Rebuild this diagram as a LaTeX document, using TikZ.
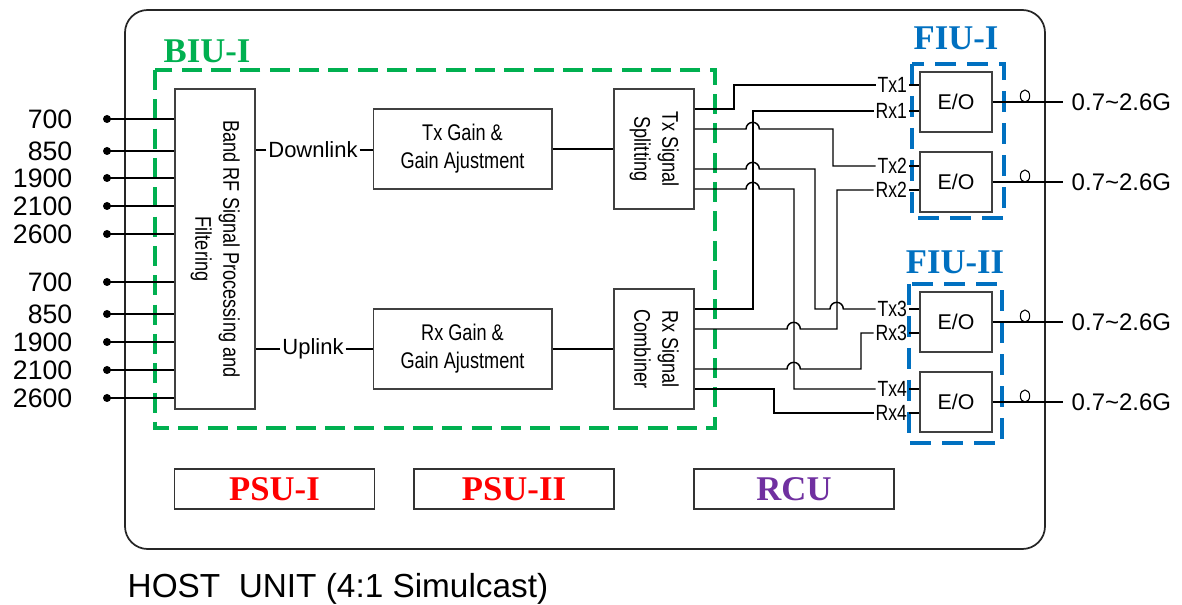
\documentclass[tikz,border=0pt]{standalone}
\usepackage{fontspec}
\setmainfont{Liberation Sans}
\newfontfamily\narrowfont[FakeStretch=0.8]{Liberation Sans}
\newfontfamily\titlefont{Liberation Serif}
\usepackage{graphicx}
\usepackage{tikz}
\usetikzlibrary{shapes.geometric,calc}
\definecolor{biugreen}{HTML}{00B050}
\definecolor{fiublue}{HTML}{0070C0}
\definecolor{rcupurple}{HTML}{7030A0}
\definecolor{psured}{HTML}{FF0000}
\tikzset{
  box/.style={draw=black!75,line width=1pt,fill=white,inner sep=0pt,align=center,font=\narrowfont\fontsize{17}{21}\selectfont},
  eobox/.style={draw=black!75,line width=1pt,fill=white,minimum width=54pt,minimum height=45pt,font=\fontsize{16}{19}\selectfont},
  unitbox/.style={draw=black!80,line width=0.9pt,minimum width=150pt,minimum height=30pt,font=\titlefont\bfseries\fontsize{26}{30}\selectfont},
  grouptitle/.style={font=\titlefont\bfseries\fontsize{26}{30}\selectfont,inner sep=0pt},
  groupframe/.style={line width=2.6pt,dash pattern=on 15pt off 7pt},
  band/.style={font=\fontsize{20}{24}\selectfont,inner sep=0pt},
  sig/.style={font=\narrowfont\fontsize{16.5}{19}\selectfont,inner sep=1pt},
  link/.style={font=\fontsize{16.5}{19}\selectfont,inner sep=1pt},
  dot/.style={circle,fill,inner sep=0pt,minimum size=6pt},
  ring/.style={ellipse,draw,line width=0.8pt,inner sep=0pt,minimum width=7pt,minimum height=9pt},
}

\begin{document}
\begin{tikzpicture}[x=0.75pt,y=-0.75pt,line width=1.1pt]
\useasboundingbox (0,0) rectangle (1182,605);
\draw[rounded corners=17pt,line width=1.3pt,black!85] (125,10) rectangle (1045,549);
\draw[groupframe,biugreen] (155,70) rectangle (715,428);
\draw[groupframe,fiublue,dash pattern=on 16pt off 8pt] (912,64) rectangle (1004,218);
\draw[groupframe,fiublue,dash pattern=on 16pt off 8pt] (909,284) rectangle (1002,443);
\node[grouptitle,text=biugreen,anchor=base west] at (163,63) (biu) {BIU-I};
\node[grouptitle,text=fiublue,anchor=base] at (956,50) (fiu1) {FIU-I};
\node[grouptitle,text=fiublue,anchor=base] at (955,274) (fiu2) {FIU-II};

\node[box,minimum width=60pt,minimum height=240pt] at (215,249) (band)
  {\rotatebox{-90}{\begin{tabular}{@{}c@{}}Band RF Signal Processing and\\Filtering\end{tabular}}};
\node[box,minimum width=134pt,minimum height=60pt] at (462.5,149) (txgain) {Tx Gain \&\\Gain Ajustment};
\node[box,minimum width=134pt,minimum height=60pt] at (462.5,349) (rxgain) {Rx Gain \&\\Gain Ajustment};
\node[box,minimum width=60pt,minimum height=90pt] at (654,149) (split)
  {\rotatebox{-90}{\begin{tabular}{@{}c@{}}Tx Signal\\Splitting\end{tabular}}};
\node[box,minimum width=60pt,minimum height=90pt] at (654,349) (comb)
  {\rotatebox{-90}{\begin{tabular}{@{}c@{}}Rx Signal\\Combiner\end{tabular}}};

\foreach \f/\y [count=\i] in {700/119,850/151,1900/178,2100/206,2600/234,700/282,850/314,1900/342,2100/370,2600/398}{
  \node[dot] at (107,\y) (in\i) {};
  \node[band,anchor=east] at (73,\y) (f\i) {\f};
  \draw (in\i.center) -- (in\i -| band.west);
}

\node[link] at (313,150) (dl) {Downlink};
\node[link] at (313,349) (ul) {Uplink};
\draw (dl) -- (dl -| band.east);
\draw (dl) -- (dl -| txgain.west);
\draw (ul) -- (ul -| band.east);
\draw (ul) -- (ul -| rxgain.west);
\draw (txgain) -- (split);
\draw (rxgain) -- (comb);

\foreach \d [count=\i] in {-40,-20,20,40}{
  \coordinate (so\i) at ($(split.east)+(0,\d)$);
  \coordinate (co\i) at ($(comb.east)+(0,\d)$);
}

\foreach \y [count=\i] in {102,182,322,402}{
  \node[eobox] at (956,\y) (eo\i) {E/O};
  \node[ring] at (1025,\y-6) (ring\i) {};
  \node[band,anchor=west,inner xsep=6pt,font=\fontsize{18}{21}\selectfont] at (1063,\y) (out\i) {0.7\textasciitilde2.6G};
  \draw (eo\i) -- (out\i);
}

\foreach \s/\y/\k in {Tx1/85/1,Rx1/111/1,Tx2/166/2,Rx2/190/2,Tx3/309/3,Rx3/333/3,Tx4/389/4,Rx4/413/4}{
  \node[sig,anchor=east] at (909,\y) (\s) {\s};
  \draw (\s) -- (\s -| eo\k.west);
}

\draw (so1) -| (734,85) -- (Tx1);
\draw (co1) -| (753,111) -- (Rx1);
\draw (so2) -- (746,129) arc[start angle=180,end angle=0,radius=5pt] -- (833,129) |- (Tx2);
\draw (so3) -- (746,169) arc[start angle=180,end angle=0,radius=5pt] -- (815,169) -- (815,309)
  -- (830,309) arc[start angle=180,end angle=0,radius=5pt] -- (Tx3);
\draw (so4) -- (746,189) arc[start angle=180,end angle=0,radius=5pt] -- (794,189) |- (Tx4);
\draw (co2) -- (787,329) arc[start angle=180,end angle=0,radius=5pt] -- (837,329) |- (Rx2);
\draw (co3) -- (787,369) arc[start angle=180,end angle=0,radius=5pt] -- (861,369) |- (Rx3);
\draw (co4) -| (774,413) -- (Rx4);

\node[unitbox,text=psured] at (274.5,489) (psu1) {PSU-I};
\node[unitbox,text=psured] at (514,489) (psu2) {PSU-II};
\node[unitbox,text=rcupurple] at (794,489) (rcu) {RCU};

\node[anchor=base west,inner sep=0pt,font=\fontsize{25}{29}\selectfont] at (127,598) (host) {HOST\ \ UNIT (4:1 Simulcast)};
\end{tikzpicture}
\end{document}
